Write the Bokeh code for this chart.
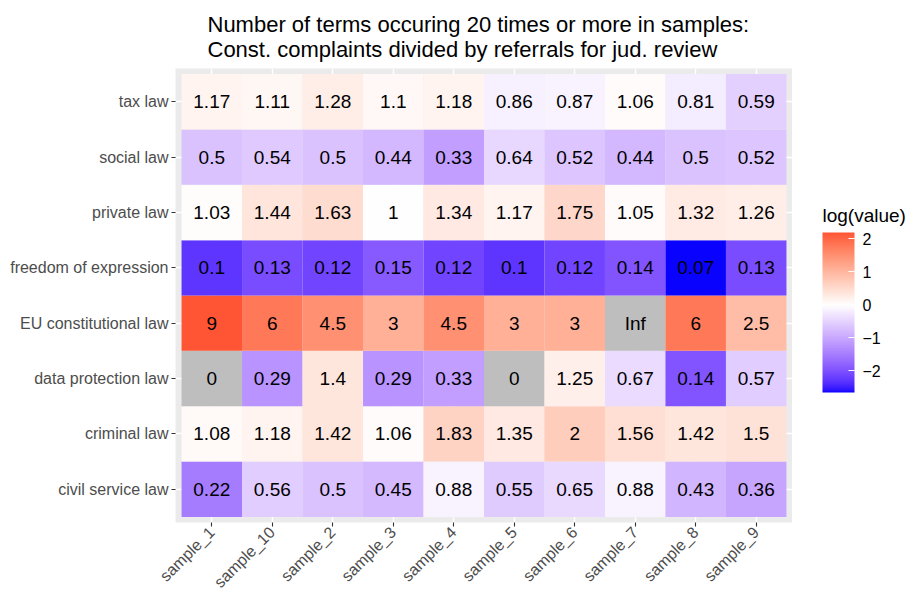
import math
import numpy as np
from bokeh.plotting import figure
from bokeh.layouts import row
from bokeh.models import (ColumnDataSource, FactorRange, LinearColorMapper,
                          ColorBar, FixedTicker, Label, Range1d)
from bokeh.core.properties import value
from bokeh.embed import file_html
from bokeh.resources import INLINE

INF = float("inf")

samples = ["sample_1", "sample_10", "sample_2", "sample_3", "sample_4",
           "sample_5", "sample_6", "sample_7", "sample_8", "sample_9"]

# legal areas, bottom row first
areas = ["civil service law", "criminal law", "data protection law",
         "EU constitutional law", "freedom of expression", "private law",
         "social law", "tax law"]

civil_service_law = [0.22, 0.56, 0.5, 0.45, 0.88, 0.55, 0.65, 0.88, 0.43, 0.36]
criminal_law = [1.08, 1.18, 1.42, 1.06, 1.83, 1.35, 2, 1.56, 1.42, 1.5]
data_protection_law = [0, 0.29, 1.4, 0.29, 0.33, 0, 1.25, 0.67, 0.14, 0.57]
eu_constitutional_law = [9, 6, 4.5, 3, 4.5, 3, 3, INF, 6, 2.5]
freedom_of_expression = [0.1, 0.13, 0.12, 0.15, 0.12, 0.1, 0.12, 0.14, 0.07, 0.13]
private_law = [1.03, 1.44, 1.63, 1, 1.34, 1.17, 1.75, 1.05, 1.32, 1.26]
social_law = [0.5, 0.54, 0.5, 0.44, 0.33, 0.64, 0.52, 0.44, 0.5, 0.52]
tax_law = [1.17, 1.11, 1.28, 1.1, 1.18, 0.86, 0.87, 1.06, 0.81, 0.59]

rows = [civil_service_law, criminal_law, data_protection_law,
        eu_constitutional_law, freedom_of_expression, private_law,
        social_law, tax_law]

# long-form table
xs, ys, vals, labels = [], [], [], []
for area, vals_row in zip(areas, rows):
    for s, v in zip(samples, vals_row):
        xs.append(s)
        ys.append(area)
        vals.append(v)
        labels.append("Inf" if math.isinf(v) else f"{v:g}")

# log of each ratio; 0 and Inf have no finite log and fall back to grey
logv = [math.log(v) if (v > 0 and math.isfinite(v)) else float("nan")
        for v in vals]

finite = [l for l in logv if not math.isnan(l)]
lo, hi = min(finite), max(finite)
span = max(abs(lo), abs(hi))


# --- diverging blue / white / red ramp interpolated in CIE Lab ---
def _hex_to_rgb(h):
    h = h.lstrip("#")
    return [int(h[i:i + 2], 16) / 255 for i in (0, 2, 4)]


def _to_lab(h):
    rgb = np.array(_hex_to_rgb(h))
    lin = np.where(rgb <= 0.04045, rgb / 12.92, ((rgb + 0.055) / 1.055) ** 2.4)
    m = np.array([[0.4124564, 0.3575761, 0.1804375],
                  [0.2126729, 0.7151522, 0.0721750],
                  [0.0193339, 0.1191920, 0.9503041]])
    xyz = m @ lin
    wp = np.array([0.95047, 1.0, 1.08883])
    t = xyz / wp
    f = np.where(t > (6 / 29) ** 3, np.cbrt(t), t / (3 * (6 / 29) ** 2) + 4 / 29)
    return np.array([116 * f[1] - 16, 500 * (f[0] - f[1]), 200 * (f[1] - f[2])])


def _lab_to_hex(lab):
    L, a, b = lab
    fy = (L + 16) / 116
    fx = fy + a / 500
    fz = fy - b / 200
    f = np.array([fx, fy, fz])
    t = np.where(f > 6 / 29, f ** 3, 3 * (6 / 29) ** 2 * (f - 4 / 29))
    xyz = t * np.array([0.95047, 1.0, 1.08883])
    minv = np.array([[3.2404542, -1.5371385, -0.4985314],
                     [-0.9692660, 1.8760108, 0.0415560],
                     [0.0556434, -0.2040259, 1.0572252]])
    lin = np.clip(minv @ xyz, 0, 1)
    rgb = np.where(lin <= 0.0031308, 12.92 * lin, 1.055 * lin ** (1 / 2.4) - 0.055)
    rgb = np.clip(np.round(rgb * 255), 0, 255).astype(int)
    return "#%02x%02x%02x" % tuple(rgb)


LOW, MID, HIGH = _to_lab("#0000FF"), _to_lab("#FFFFFF"), _to_lab("#FF0000")


def ramp(v):
    t = max(-1.0, min(1.0, v / span))
    end = HIGH if t >= 0 else LOW
    return _lab_to_hex(MID + (end - MID) * abs(t))


N = 256
tile_palette = [ramp(-span + (i + 0.5) * 2 * span / N) for i in range(N)]
bar_palette = [ramp(lo + (i + 0.5) * (hi - lo) / N) for i in range(N)]

tile_mapper = LinearColorMapper(palette=tile_palette, low=-span, high=span,
                                nan_color="#BEBEBE")
bar_mapper = LinearColorMapper(palette=bar_palette, low=lo, high=hi)

source = ColumnDataSource(dict(x=xs, y=ys, logv=logv, label=labels))

FONT = "Liberation Sans"

# ---------------- heatmap ----------------
p = figure(width=792, height=599,
           x_range=FactorRange(factors=samples, range_padding=0.1,
                               range_padding_units="absolute"),
           y_range=FactorRange(factors=areas, range_padding=0.1,
                               range_padding_units="absolute"),
           output_backend="svg", toolbar_location=None,
           min_border_left=175, min_border_right=0,
           min_border_top=68, min_border_bottom=74)

p.rect(x="x", y="y", width=1, height=1, source=source,
       fill_color={"field": "logv", "transform": tile_mapper},
       line_color=None)

p.text(x="x", y="y", text="label", source=source,
       text_align="center", text_baseline="middle",
       text_font=value(FONT), text_font_size="19px", text_color="black")

# title
p.title.text = ("Number of terms occuring 20 times or more in samples:\n"
                "Const. complaints divided by referrals for jud. review")
p.title.text_font = FONT
p.title.text_font_size = "22px"
p.title.text_font_style = "normal"
p.title.text_color = "black"
p.title.align = "left"
p.title.offset = 32
p.title.standoff = 14

# panel
p.background_fill_color = "#EBEBEB"
p.border_fill_color = "white"
p.outline_line_color = None
p.grid.grid_line_color = "white"
p.grid.grid_line_width = 1.4

# axes
p.axis.axis_line_color = None
p.axis.major_tick_line_color = "#333333"
p.axis.major_tick_line_width = 1.1
p.axis.major_tick_out = 4
p.axis.major_tick_in = 0
p.axis.minor_tick_line_color = None
p.axis.major_label_text_color = "#4D4D4D"
p.axis.major_label_text_font = FONT
p.axis.major_label_text_font_size = "16px"
p.axis.major_label_standoff = 3
p.xaxis.major_label_orientation = math.pi / 4

# ---------------- colour legend ----------------
# the row aligns this plot's frame with the heatmap frame (top 68, bottom 525)
leg = figure(width=119, height=599, x_range=Range1d(0, 1), y_range=Range1d(0, 1),
             output_backend="svg", toolbar_location=None, title=None,
             x_axis_location=None, y_axis_location=None,
             min_border_left=0, min_border_right=0,
             min_border_top=0, min_border_bottom=0)
leg.grid.visible = False
leg.outline_line_color = None
leg.background_fill_color = "white"

color_bar = ColorBar(color_mapper=bar_mapper,
                     ticker=FixedTicker(ticks=[-2, -1, 0, 1, 2]),
                     major_label_overrides={-2: "\u22122", -1: "\u22121",
                                            0: "0", 1: "1", 2: "2"},
                     orientation="vertical",
                     width=32, height=160,
                     title=None,
                     major_label_text_font=FONT,
                     major_label_text_font_size="16px",
                     major_label_text_color="black",
                     major_tick_line_color="white", major_tick_in=6,
                     major_tick_out=0, minor_tick_line_color=None,
                     bar_line_color=None, border_line_color=None,
                     background_fill_color=None, background_fill_alpha=0,
                     label_standoff=8, padding=0, margin=0,
                     location=(30, 130))
leg.add_layout(color_bar, "center")

leg.add_layout(Label(x=30, y=307, x_units="screen", y_units="screen",
                     text="log(value)", text_font=FONT, text_font_size="19px",
                     text_color="black", text_align="left",
                     text_baseline="alphabetic"))

layout = row(p, leg)

open("out.html", "w").write(file_html(layout, INLINE))
